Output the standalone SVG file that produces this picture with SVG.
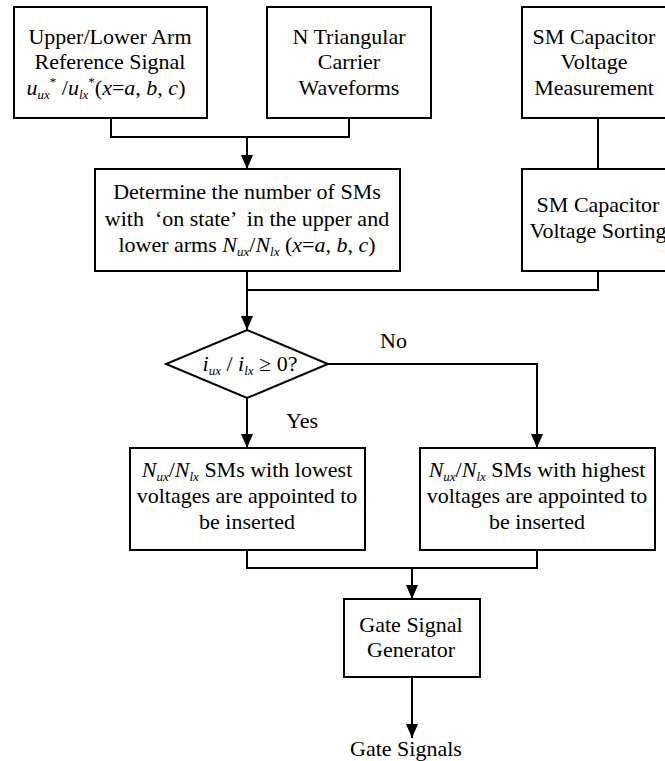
<svg xmlns="http://www.w3.org/2000/svg" width="665" height="761" viewBox="0 0 665 761">
<style>
  .box { fill: #ffffff; stroke: #000000; stroke-width: 2; }
  .ln { fill: none; stroke: #000000; stroke-width: 2; }
  .t { text-anchor: middle; }
  .i { font-style: italic; }
  .s { font-size: 13px; font-style: italic; }
</style>
<defs>
  <marker id="arr" markerUnits="userSpaceOnUse" markerWidth="14" markerHeight="12" viewBox="0 0 14 12" refX="14" refY="6" orient="auto">
    <path d="M0,0 L14,6 L0,12 z" fill="#000000"/>
  </marker>
</defs>
<rect width="665" height="761" fill="#ffffff"/>

<g id="connectors">
  <polyline class="ln" points="111,118 111,137 349,137 349,118"/>
  <line class="ln" x1="247" y1="137" x2="247" y2="169" marker-end="url(#arr)"/>
  <line class="ln" x1="598" y1="118" x2="598" y2="169"/>
  <polyline class="ln" points="598,271 598,290 247,290"/>
  <line class="ln" x1="247" y1="271" x2="247" y2="330" marker-end="url(#arr)"/>
  <line class="ln" x1="247" y1="398" x2="247" y2="448" marker-end="url(#arr)"/>
  <polyline class="ln" points="328,364 537,364 537,448" marker-end="url(#arr)"/>
  <polyline class="ln" points="247,550 247,568 537,568 537,550"/>
  <line class="ln" x1="412" y1="568" x2="412" y2="599" marker-end="url(#arr)"/>
  <line class="ln" x1="412" y1="677" x2="412" y2="738" marker-end="url(#arr)"/>
  <text font-family="'Liberation Serif', serif" font-size="22" x="380" y="348">No</text>
  <text font-family="'Liberation Serif', serif" font-size="22" x="286" y="428">Yes</text>
</g>

<g id="ref-signal">
  <rect class="box" x="14" y="7" width="193" height="111"/>
  <text class="t" font-family="'Liberation Serif', serif" font-size="22" x="110" y="44">Upper/Lower Arm</text>
  <text class="t" font-family="'Liberation Serif', serif" font-size="22" x="110" y="69">Reference Signal</text>
  <text class="t" font-family="'Liberation Serif', serif" font-size="22" x="106" y="95"><tspan class="i">u</tspan><tspan class="s" dy="4">ux</tspan><tspan font-size="13" dy="-13">*</tspan><tspan dy="9"> /</tspan><tspan class="i">u</tspan><tspan class="s" dy="4">lx</tspan><tspan font-size="13" dy="-13">*</tspan><tspan dy="9">(</tspan><tspan class="i">x</tspan>=<tspan class="i">a</tspan>, <tspan class="i">b</tspan>, <tspan class="i">c</tspan>)</text>
</g>

<g id="carrier">
  <rect class="box" x="267" y="7" width="164" height="111"/>
  <text class="t" font-family="'Liberation Serif', serif" font-size="22" x="349" y="44">N Triangular</text>
  <text class="t" font-family="'Liberation Serif', serif" font-size="22" x="349" y="69">Carrier</text>
  <text class="t" font-family="'Liberation Serif', serif" font-size="22" x="349" y="95">Waveforms</text>
</g>

<g id="cap-measure">
  <rect class="box" x="522" y="7" width="152" height="111"/>
  <text class="t" font-family="'Liberation Serif', serif" font-size="22" x="594" y="44">SM Capacitor</text>
  <text class="t" font-family="'Liberation Serif', serif" font-size="22" x="594" y="69">Voltage</text>
  <text class="t" font-family="'Liberation Serif', serif" font-size="22" x="594" y="95">Measurement</text>
</g>

<g id="determine">
  <rect class="box" x="95" y="169" width="305" height="102"/>
  <text class="t" font-family="'Liberation Serif', serif" font-size="22" x="247" y="199">Determine the number of SMs</text>
  <text class="t" font-family="'Liberation Serif', serif" font-size="22" x="247" y="226" xml:space="preserve">with  ‘on state’  in the upper and</text>
  <text class="t" font-family="'Liberation Serif', serif" font-size="22" x="247" y="252">lower arms <tspan class="i">N</tspan><tspan class="s" dy="4">ux</tspan><tspan dy="-4">/</tspan><tspan class="i">N</tspan><tspan class="s" dy="4">lx</tspan><tspan dy="-4"> (</tspan><tspan class="i">x</tspan>=<tspan class="i">a</tspan>, <tspan class="i">b</tspan>, <tspan class="i">c</tspan>)</text>
</g>

<g id="cap-sort">
  <rect class="box" x="522" y="169" width="152" height="102"/>
  <text class="t" font-family="'Liberation Serif', serif" font-size="22" x="598" y="212">SM Capacitor</text>
  <text class="t" font-family="'Liberation Serif', serif" font-size="22" x="598" y="238">Voltage Sorting</text>
</g>

<g id="decision">
  <polygon class="box" points="247,330 328,364 247,398 166,364"/>
  <text class="t" font-family="'Liberation Serif', serif" font-size="22" x="250" y="371"><tspan class="i">i</tspan><tspan class="s" dy="4">ux</tspan><tspan dy="-4"> /</tspan><tspan class="i"> i</tspan><tspan class="s" dy="4">lx</tspan><tspan dy="-4"> ≥ 0?</tspan></text>
</g>

<g id="lowest">
  <rect class="box" x="130" y="448" width="235" height="102"/>
  <text class="t" font-family="'Liberation Serif', serif" font-size="22" x="247" y="477"><tspan class="i">N</tspan><tspan class="s" dy="4">ux</tspan><tspan dy="-4">/</tspan><tspan class="i">N</tspan><tspan class="s" dy="4">lx</tspan><tspan dy="-4"> SMs with lowest</tspan></text>
  <text class="t" font-family="'Liberation Serif', serif" font-size="22" x="247" y="503">voltages are appointed to</text>
  <text class="t" font-family="'Liberation Serif', serif" font-size="22" x="247" y="529">be inserted</text>
</g>

<g id="highest">
  <rect class="box" x="420" y="448" width="235" height="102"/>
  <text class="t" font-family="'Liberation Serif', serif" font-size="22" x="537" y="477"><tspan class="i">N</tspan><tspan class="s" dy="4">ux</tspan><tspan dy="-4">/</tspan><tspan class="i">N</tspan><tspan class="s" dy="4">lx</tspan><tspan dy="-4"> SMs with highest</tspan></text>
  <text class="t" font-family="'Liberation Serif', serif" font-size="22" x="537" y="503">voltages are appointed to</text>
  <text class="t" font-family="'Liberation Serif', serif" font-size="22" x="537" y="529">be inserted</text>
</g>

<g id="gate-gen">
  <rect class="box" x="344" y="599" width="136" height="78"/>
  <text class="t" font-family="'Liberation Serif', serif" font-size="22" x="411" y="632">Gate Signal</text>
  <text class="t" font-family="'Liberation Serif', serif" font-size="22" x="411" y="657">Generator</text>
</g>

<g id="gate-signals">
  <text class="t" font-family="'Liberation Serif', serif" font-size="22" x="406" y="756">Gate Signals</text>
</g>
</svg>
